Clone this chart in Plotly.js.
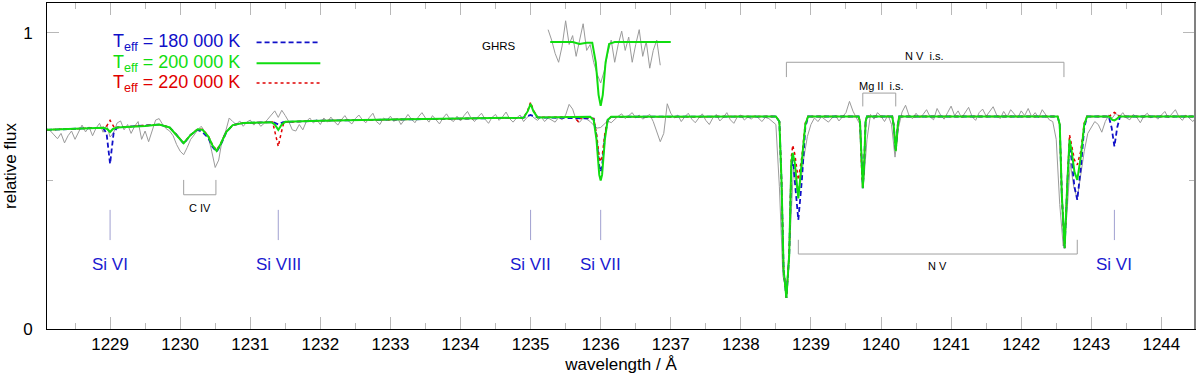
<!DOCTYPE html>
<html><head><meta charset="utf-8">
<script src="https://cdn.plot.ly/plotly-3.0.1.min.js"></script>
<style>html,body{margin:0;padding:0;background:#fff}#chart{width:1200px;height:378px}</style>
</head><body><div id="chart"></div>
<script>
// ---------- observed spectrum (grey), regular grid 0.05 A from 1228.10 ----------
const greyStart = 1228.10;
const greyStep = 0.05;
const greyFlux = [
  0.676,0.668,0.655,0.642,0.660,0.628,0.652,0.668,0.640,0.662,0.688,0.665,0.682,0.652,0.678,0.694,0.664,0.688, // 1228.10-1228.95
  0.648,0.662,0.695,0.702,0.672,0.690,0.660,0.684,0.700,0.640,0.668,0.632,0.672,0.705,0.710,0.690,0.676,0.668,0.652,0.622, // 1229
  0.600,0.588,0.612,0.640,0.655,0.672,0.684,0.665,0.650,0.600,0.545,0.570,0.640,0.668,0.712,0.700,0.690,0.702,0.684,0.698, // 1230
  0.705,0.688,0.700,0.684,0.694,0.708,0.722,0.736,0.714,0.738,0.720,0.700,0.672,0.668,0.690,0.672,0.700,0.712,0.695,0.706, // 1231
  0.690,0.712,0.698,0.715,0.700,0.688,0.706,0.720,0.702,0.692,0.710,0.722,0.706,0.696,0.714,0.728,0.700,0.690,0.712,0.704, // 1232
  0.718,0.700,0.712,0.690,0.706,0.724,0.708,0.696,0.716,0.730,0.712,0.698,0.720,0.706,0.692,0.712,0.726,0.708,0.700,0.718, // 1233
  0.702,0.720,0.734,0.712,0.700,0.716,0.728,0.708,0.694,0.714,0.724,0.704,0.716,0.732,0.710,0.698,0.712,0.722,0.700,0.714, // 1234
  0.724,0.712,0.704,0.716,0.700,0.712,0.706,0.698,0.714,0.706,0.722,0.758,0.742,0.705,0.698,0.712,0.708,0.700,0.688,0.678, // 1235
  0.680,0.692,0.702,0.696,0.708,0.718,0.726,0.710,0.720,0.730,0.712,0.722,0.708,0.716,0.724,0.700,0.668,0.632,0.660,0.760, // 1236
  0.728,0.712,0.722,0.700,0.716,0.728,0.708,0.696,0.712,0.726,0.704,0.690,0.712,0.724,0.702,0.714,0.730,0.706,0.694,0.716, // 1237
  0.722,0.705,0.716,0.708,0.720,0.712,0.700,0.714,0.710,0.700,0.690,0.480,0.180,0.130,0.300,0.540,0.470,0.490,0.580,0.650, // 1238
  0.690,0.712,0.700,0.716,0.706,0.698,0.712,0.720,0.702,0.716,0.730,0.768,0.735,0.712,0.690,0.490,0.640,0.724,0.708,0.730, // 1239
  0.718,0.700,0.722,0.690,0.580,0.680,0.732,0.755,0.720,0.710,0.728,0.712,0.724,0.740,0.716,0.706,0.744,0.722,0.708,0.730, // 1240
  0.752,0.720,0.736,0.712,0.728,0.748,0.716,0.704,0.730,0.742,0.718,0.735,0.750,0.722,0.710,0.734,0.716,0.740,0.726,0.712, // 1241
  0.736,0.720,0.744,0.716,0.730,0.712,0.740,0.722,0.706,0.700,0.640,0.420,0.280,0.380,0.560,0.480,0.440,0.520,0.600,0.660, // 1242
  0.680,0.700,0.690,0.664,0.700,0.722,0.712,0.728,0.716,0.730,0.712,0.706,0.724,0.714,0.696,0.718,0.728,0.712,0.720,0.708, // 1243
  0.722,0.734,0.712,0.728,0.740,0.716,0.704,0.722,0.712,0.700,0.716 // 1244.00-1244.50
];

// ---------- GHRS inset (observed, grey), grid 0.05 A from 1235.25 ----------
const ghrsStart = 1235.25;
const ghrsFlux = [1.010,0.975,0.930,0.900,0.955,1.040,0.960,0.990,0.920,0.975,1.030,0.940,0.960,0.900,0.860,0.830,
  0.870,0.930,0.975,0.900,0.960,1.005,0.940,0.985,0.900,0.960,1.010,0.920,0.970,0.880,0.940,0.975,0.890];
const ghrsModelWave = [1235.28,1235.60,1235.70,1235.80,1235.88,1235.93,1235.97,1236.00,1236.03,1236.07,1236.12,1236.20,1237.00];
const ghrsModelFlux = [0.968,0.968,0.962,0.966,0.966,0.900,0.790,0.753,0.790,0.900,0.962,0.968,0.968];

// ---------- model spectra ----------
const modelWave200 = [1228.10,1228.60,1228.90,1228.96,1229.00,1229.04,1229.10,1229.50,1229.70,1229.85,1229.95,1230.05,1230.15,1230.25,1230.32,1230.40,1230.46,1230.52,1230.58,1230.66,1230.75,1230.90,1231.30,1231.35,1231.40,1231.45,1231.50,1232.00,1233.00,1234.00,1234.90,1234.96,1235.00,1235.04,1235.10,1235.85,1235.90,1235.94,1235.98,1236.00,1236.02,1236.06,1236.10,1236.15,1238.50,1238.55,1238.58,1238.61,1238.65,1238.69,1238.72,1238.74,1238.77,1238.82,1238.87,1238.92,1238.96,1239.68,1239.70,1239.72,1239.74,1239.76,1239.78,1239.80,1240.16,1240.18,1240.21,1240.24,1240.26,1242.52,1242.55,1242.58,1242.62,1242.66,1242.69,1242.72,1242.76,1242.80,1242.85,1242.90,1242.94,1243.25,1243.30,1243.33,1243.36,1243.40,1244.50];
const modelFlux200 = [0.672,0.676,0.679,0.675,0.665,0.675,0.680,0.685,0.690,0.680,0.655,0.627,0.655,0.674,0.672,0.650,0.620,0.601,0.625,0.665,0.688,0.695,0.698,0.690,0.672,0.690,0.699,0.703,0.707,0.711,0.713,0.735,0.760,0.735,0.714,0.716,0.705,0.640,0.520,0.501,0.520,0.640,0.705,0.716,0.717,0.700,0.500,0.200,0.105,0.250,0.560,0.594,0.560,0.441,0.560,0.690,0.717,0.717,0.700,0.560,0.475,0.560,0.700,0.717,0.717,0.690,0.600,0.690,0.717,0.717,0.690,0.450,0.273,0.500,0.639,0.600,0.530,0.503,0.580,0.690,0.717,0.717,0.706,0.704,0.708,0.717,0.717];

const modelWave180 = [1228.10,1228.90,1228.95,1228.98,1229.00,1229.02,1229.05,1229.10,1229.50,1229.70,1229.85,1229.95,1230.05,1230.15,1230.25,1230.32,1230.40,1230.46,1230.52,1230.58,1230.66,1230.75,1230.90,1231.33,1231.40,1231.47,1232.00,1233.00,1234.00,1234.90,1235.00,1235.10,1235.90,1235.94,1235.98,1236.00,1236.02,1236.06,1236.10,1236.15,1238.50,1238.55,1238.58,1238.61,1238.65,1238.69,1238.72,1238.74,1238.77,1238.82,1238.87,1238.92,1238.96,1239.68,1239.70,1239.72,1239.74,1239.76,1239.78,1239.80,1240.16,1240.18,1240.21,1240.24,1240.26,1242.52,1242.55,1242.58,1242.62,1242.66,1242.69,1242.72,1242.76,1242.80,1242.85,1242.90,1242.94,1243.25,1243.29,1243.33,1243.37,1243.41,1244.50];
const modelFlux180 = [0.672,0.679,0.660,0.600,0.557,0.600,0.660,0.680,0.685,0.690,0.680,0.655,0.625,0.655,0.672,0.664,0.645,0.615,0.598,0.622,0.665,0.688,0.695,0.698,0.690,0.698,0.703,0.707,0.711,0.713,0.722,0.714,0.710,0.650,0.550,0.531,0.550,0.650,0.705,0.716,0.717,0.700,0.500,0.200,0.105,0.250,0.540,0.580,0.500,0.368,0.500,0.680,0.717,0.717,0.700,0.560,0.475,0.560,0.700,0.717,0.717,0.690,0.600,0.690,0.717,0.717,0.690,0.450,0.273,0.500,0.625,0.570,0.480,0.436,0.540,0.680,0.717,0.717,0.680,0.616,0.680,0.717,0.717];

const modelWave220 = [1228.10,1228.60,1228.94,1229.00,1229.06,1229.10,1229.50,1229.70,1229.85,1229.95,1230.05,1230.15,1230.25,1230.32,1230.40,1230.46,1230.52,1230.58,1230.66,1230.75,1230.90,1231.32,1231.36,1231.40,1231.44,1231.48,1232.00,1233.00,1234.00,1234.90,1234.96,1235.00,1235.04,1235.10,1235.62,1235.68,1235.74,1235.90,1235.94,1235.98,1236.00,1236.02,1236.06,1236.10,1236.15,1238.50,1238.55,1238.58,1238.61,1238.65,1238.69,1238.72,1238.74,1238.77,1238.82,1238.87,1238.92,1238.96,1239.68,1239.70,1239.72,1239.74,1239.76,1239.78,1239.80,1240.16,1240.18,1240.21,1240.24,1240.26,1242.52,1242.55,1242.58,1242.62,1242.66,1242.69,1242.72,1242.76,1242.80,1242.85,1242.90,1242.94,1243.25,1243.29,1243.33,1243.37,1243.41,1244.50];
const modelFlux220 = [0.672,0.676,0.680,0.704,0.680,0.680,0.685,0.690,0.680,0.655,0.628,0.655,0.675,0.673,0.652,0.622,0.603,0.627,0.666,0.688,0.695,0.698,0.660,0.616,0.660,0.698,0.703,0.707,0.711,0.713,0.738,0.765,0.738,0.714,0.716,0.700,0.716,0.710,0.660,0.580,0.565,0.580,0.660,0.705,0.716,0.717,0.700,0.500,0.200,0.105,0.250,0.580,0.620,0.590,0.503,0.580,0.695,0.717,0.717,0.700,0.560,0.475,0.560,0.700,0.717,0.717,0.690,0.600,0.690,0.717,0.717,0.690,0.450,0.273,0.500,0.655,0.620,0.570,0.554,0.600,0.695,0.717,0.717,0.725,0.731,0.725,0.717,0.717];

// ---------- line identifications ----------
const siLabels = ['Si VI','Si VIII','Si VII','Si VII','Si VI'];
const siWaves = [1229.00,1231.40,1235.00,1236.00,1243.33];
const legendLabels = ['T<sub>eff</sub> = 180 000 K','T<sub>eff</sub> = 200 000 K','T<sub>eff</sub> = 220 000 K'];
const tickValsX = [1229,1230,1231,1232,1233,1234,1235,1236,1237,1238,1239,1240,1241,1242,1243,1244];

// ---------- build ----------
const greyWave = greyFlux.map((_, i) => +(greyStart + i * greyStep).toFixed(2));
const ghrsWave = ghrsFlux.map((_, i) => +(ghrsStart + i * greyStep).toFixed(2));

const cBlue = '#1010c8', cGreen = '#10dd10', cRed = '#e00000', cGrey = '#9a9a9a';
const FONT = 'Liberation Sans, Arial, Helvetica, sans-serif';

const traces = [
  {x: greyWave, y: greyFlux, mode: 'lines', line: {color: cGrey, width: 1}, hoverinfo: 'skip'},
  {x: ghrsWave, y: ghrsFlux, mode: 'lines', line: {color: cGrey, width: 1}, hoverinfo: 'skip'},
  {x: modelWave180, y: modelFlux180, mode: 'lines', line: {color: cBlue, width: 1.8, dash: '5px,3px'}},
  {x: modelWave220, y: modelFlux220, mode: 'lines', line: {color: cRed, width: 1.5, dash: 'dot'}},
  {x: modelWave200, y: modelFlux200, mode: 'lines', line: {color: cGreen, width: 2}},
  {x: ghrsModelWave, y: ghrsModelFlux, mode: 'lines', line: {color: cGreen, width: 2}}
];

const shapes = [];
const annotations = [];
const bracketColor = '#a0a0a0';
function seg(x0, y0, x1, y1, color, width, dash) {
  shapes.push({type: 'line', xref: 'x', yref: 'y', x0, y0, x1, y1, line: {color, width: width || 1, dash: dash || 'solid'}});
}
function txt(x, y, text, size, color, xanchor) {
  annotations.push({x, y, xref: 'x', yref: 'y', text, showarrow: false, xanchor: xanchor || 'center', yanchor: 'middle',
    font: {family: FONT, size, color}});
}
// Si markers
siWaves.forEach((w, i) => {
  seg(w, 0.30, w, 0.402, '#a0a0d0', 1);
  txt(w, 0.216, siLabels[i], 17, '#1a1ad0');
});
// C IV bracket
seg(1230.05, 0.503, 1230.05, 0.453, bracketColor); seg(1230.51, 0.503, 1230.51, 0.453, bracketColor);
seg(1230.05, 0.453, 1230.51, 0.453, bracketColor);
txt(1230.28, 0.409, 'C IV', 11, '#000');
// N V i.s.
seg(1238.65, 0.900, 1242.61, 0.900, bracketColor);
seg(1238.65, 0.900, 1238.65, 0.850, bracketColor); seg(1242.61, 0.900, 1242.61, 0.850, bracketColor);
txt(1240.62, 0.922, 'N V\u00a0\u00a0i.s.', 11, '#000');
// Mg II i.s.
seg(1239.74, 0.796, 1240.21, 0.796, bracketColor);
seg(1239.74, 0.796, 1239.74, 0.751, bracketColor); seg(1240.21, 0.796, 1240.21, 0.751, bracketColor);
txt(1240.01, 0.821, 'Mg II\u00a0\u00a0i.s.', 11, '#000');
// N V photospheric
seg(1238.82, 0.253, 1242.80, 0.253, bracketColor);
seg(1238.82, 0.253, 1238.82, 0.301, bracketColor); seg(1242.80, 0.253, 1242.80, 0.301, bracketColor);
txt(1240.80, 0.213, 'N V', 11, '#000');
// GHRS
txt(1234.55, 0.955, 'GHRS', 11.5, '#000');
// legend
const legColors = [cBlue, cGreen, cRed];
const legY = [0.967, 0.897, 0.830];
const legDash = ['5px,3px', 'solid', 'dot'];
const legW = [1.8, 2, 1.5];
legendLabels.forEach((t, i) => {
  txt(1229.01, legY[i], t, 18, legColors[i], 'left');
  seg(1231.09, legY[i], 1232.00, legY[i], legColors[i], legW[i], legDash[i]);
});
// right frame (grey)
shapes.push({type: 'line', xref: 'paper', yref: 'paper', x0: 1, x1: 1, y0: 0, y1: 1, line: {color: '#808080', width: 2}});

const layout = {
  width: 1200, height: 378,
  margin: {l: 47, r: 5, t: 3, b: 49},
  paper_bgcolor: '#fff', plot_bgcolor: '#fff',
  showlegend: false,
  font: {family: FONT, size: 17, color: '#000'},
  xaxis: {
    range: [1228.1, 1244.48], tickmode: 'array', tickvals: tickValsX,
    ticks: 'inside', ticklen: 12, tickcolor: '#b8b8b8', tickwidth: 1,
    showline: true, linecolor: '#000', linewidth: 1, mirror: 'ticks',
    showgrid: false, zeroline: false,
    tickfont: {family: FONT, size: 17, color: '#000'},
    minor: {dtick: 0.5, tick0: 1228.5, ticks: 'inside', ticklen: 6, tickcolor: '#b8b8b8', showgrid: false},
    title: {text: 'wavelength / Å', font: {family: FONT, size: 17, color: '#000'}, standoff: 4}
  },
  yaxis: {
    range: [0, 1.1], tickmode: 'array', tickvals: [0, 1], ticktext: ['0', '1'],
    ticks: 'inside', ticklen: 12, tickcolor: '#b8b8b8', tickwidth: 1,
    showline: true, linecolor: '#000', linewidth: 1, mirror: 'ticks',
    showgrid: false, zeroline: false, ticklabelstandoff: 10,
    tickfont: {family: FONT, size: 17, color: '#000'},
    minor: {tickmode: 'array', tickvals: [0.5], ticks: 'inside', ticklen: 6, tickcolor: '#b8b8b8', showgrid: false},
    title: {text: 'relative flux', font: {family: FONT, size: 17, color: '#000'}, standoff: 2}
  },
  shapes, annotations
};

Plotly.newPlot('chart', traces, layout, {displayModeBar: false, staticPlot: true});
</script></body></html>
